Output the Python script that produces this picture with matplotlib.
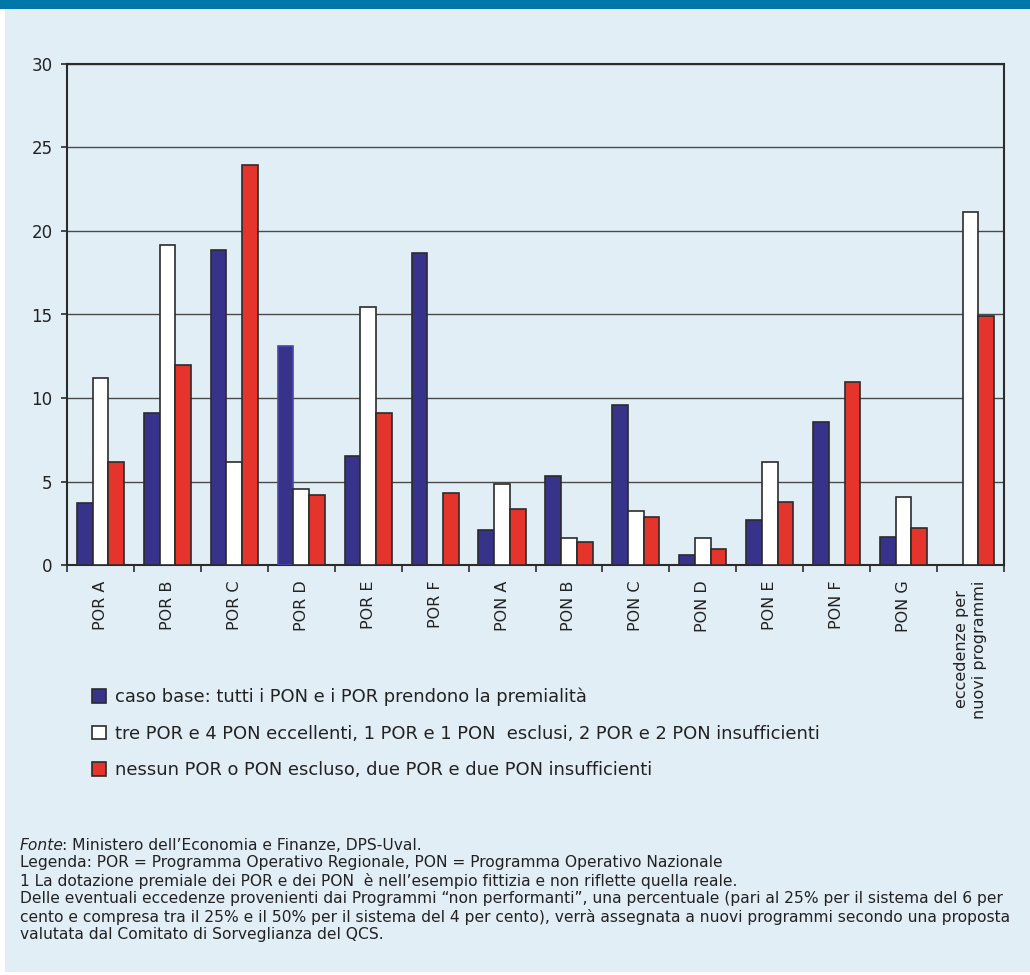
import numpy as np
import matplotlib
matplotlib.use("Agg")
import matplotlib.pyplot as plt
from matplotlib.patches import Rectangle, Patch

plt.rcParams['font.family'] = ['DejaVu Sans']

# data
categories = ["POR A", "POR B", "POR C", "POR D", "POR E", "POR F",
              "PON A", "PON B", "PON C", "PON D", "PON E", "PON F", "PON G",
              "eccedenze per\nnuovi programmi"]
caso_base = [3.7, 9.1, 18.85, 13.1, 6.5, 18.7,
             2.1, 5.35, 9.6, 0.6, 2.7, 8.55, 1.7, np.nan]
tre_por = [11.2, 19.15, 6.15, 4.55, 15.45, np.nan,
           4.85, 1.6, 3.25, 1.6, 6.15, np.nan, 4.1, 21.15]
nessun_por = [6.15, 12.0, 23.95, 4.2, 9.1, 4.3,
              3.35, 1.4, 2.9, 0.95, 3.75, 10.95, 2.2, 14.9]
series_labels = [
    "caso base: tutti i PON e i POR prendono la premialità",
    "tre POR e 4 PON eccellenti, 1 POR e 1 PON  esclusi, 2 POR e 2 PON insufficienti",
    "nessun POR o PON escluso, due POR e due PON insufficienti",
]
yticks = [0, 5, 10, 15, 20, 25, 30]

footer_lines = [
    "Legenda: POR = Programma Operativo Regionale, PON = Programma Operativo Nazionale",
    "1 La dotazione premiale dei POR e dei PON  è nell’esempio fittizia e non riflette quella reale.",
    "Delle eventuali eccedenze provenienti dai Programmi “non performanti”, una percentuale (pari al 25% per il sistema del 6 per",
    "cento e compresa tra il 25% e il 50% per il sistema del 4 per cento), verrà assegnata a nuovi programmi secondo una proposta",
    "valutata dal Comitato di Sorveglianza del QCS.",
]

BG = "#E1EEF6"
BAND = "#0077A8"
BLUE = "#38338A"
RED = "#E5342C"
EDGE = "#2B2B2B"
TXT = "#222222"
colors = [BLUE, "white", RED]

W, H = 1030, 975
fig = plt.figure(figsize=(W / 100, H / 100), dpi=100, facecolor="white")

# light panel and top band, kept behind the axes
fig.patches.append(Rectangle((5 / W, 0.003), 1 - 5 / W, 1 - 0.003 - 9 / H,
                             transform=fig.transFigure, facecolor=BG,
                             edgecolor="none", zorder=-10))
fig.patches.append(Rectangle((0, 1 - 9 / H), 1, 9 / H, transform=fig.transFigure,
                             facecolor=BAND, edgecolor="none", zorder=-10))

ax = fig.add_axes([67 / W, 1 - 565 / H, (1004 - 67) / W, (565 - 64) / H])
ax.set_facecolor(BG)

x = np.arange(len(categories))
bw = 0.235
all_series = [caso_base, tre_por, nessun_por]
containers = []
for i, vals in enumerate(all_series):
    bars = ax.bar(x + (i - 1) * bw, vals, bw, color=colors[i],
                  edgecolor=EDGE, linewidth=1.2, zorder=3)
    containers.append(bars)
# POR D base bar has no dark outline in the reference
containers[0][3].set_edgecolor("#4B48A6")

ax.set_xlim(-0.5, len(categories) - 0.5)
ax.set_ylim(0, 30)
ax.set_yticks(yticks)
ax.set_yticklabels([str(t) for t in yticks], fontsize=12, color=TXT)
ax.yaxis.grid(True, color="#4A4A4A", linewidth=1.0, zorder=1)
ax.set_axisbelow(True)

ax.set_xticks(x)
ax.set_xticklabels(categories, rotation=90, fontsize=11.5, color=TXT,
                   va="top", ha="center")
ax.set_xticks(np.arange(len(categories) + 1) - 0.5, minor=True)
ax.tick_params(axis="x", which="major", length=0, pad=11)
ax.tick_params(axis="x", which="minor", length=5, width=1.2, color=EDGE)
ax.tick_params(axis="y", length=4.5, width=1.2, color=EDGE, pad=6)

for side in ["left", "right", "top", "bottom"]:
    ax.spines[side].set_color(EDGE)
    ax.spines[side].set_linewidth(1.5)

handles = [Patch(facecolor=c, edgecolor=EDGE, linewidth=1.2) for c in colors]
fig.legend(handles, series_labels, loc="upper left",
           bbox_to_anchor=(83 / W, 1 - 679 / H), frameon=False,
           fontsize=12.9, handlelength=0.78, handleheight=0.78,
           handletextpad=0.5, labelspacing=1.02, borderpad=0,
           labelcolor=TXT)

# footer notes
fy = 845
fs = 11.2
fonte = fig.text(20 / W, 1 - fy / H, "Fonte", fontsize=fs, style="italic",
                 color=TXT, va="center")
fig.add_artist(plt.Annotation(": Ministero dell’Economia e Finanze, DPS-Uval.",
                              xy=(1, 0.5), xycoords=fonte, xytext=(-1.5, 0),
                              textcoords="offset points", va="center",
                              fontsize=fs, color=TXT))
for i, line in enumerate(footer_lines):
    fig.text(20 / W, 1 - (fy + 18 * (i + 1)) / H, line, fontsize=fs,
             color=TXT, va="center")

fig.savefig("out.png", dpi=100, facecolor=fig.get_facecolor())
